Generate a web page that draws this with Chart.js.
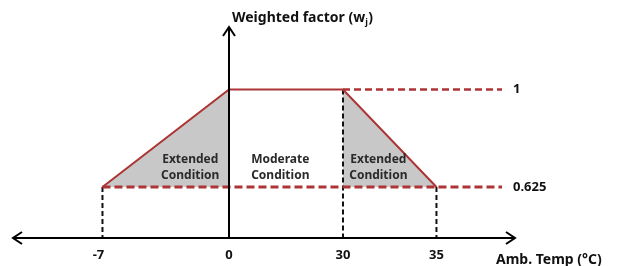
<!DOCTYPE html>
<html>
<head>
<meta charset="utf-8">
<script src="https://cdn.jsdelivr.net/npm/chart.js@4.4.0/dist/chart.umd.min.js"></script>
<style>
  html, body { margin: 0; padding: 0; background: #ffffff; }
  canvas { display: block; }
</style>
</head>
<body>
<canvas id="c" width="618" height="266"></canvas>
<script>
// ---- data ----
const tempTicks   = [-7, 0, 30, 35];                 // ambient temperature break points (°C)
const tickLabels  = ['-7', '0', '30', '35'];
const axisPos     = [-1.11, 0, 1, 1.82];             // schematic (not-to-scale) axis position of each break point
const weights     = [0.625, 1, 1, 0.625];            // weighted factor at each break point
const levelLabels = ['1', '0.625'];
const levelValues = [1, 0.625];
const regionLines = [['Extended', 'Condition'], ['Moderate', 'Condition'], ['Extended', 'Condition']];
const regionPos   = [-0.34, 0.45, 1.31];             // schematic x of region captions
const regionY     = 0.698;

// ---- config ----
const X_MIN = -1.895, X_MAX = 2.509, Y_MIN = 0.4288, Y_MAX = 1.2404;
const LEVEL_END = 2.395;
const RED = '#ad3434';
const GRAY = '#c8c8c8';
const FONT = '"Noto Sans", "Open Sans", sans-serif';

const pts = tempTicks.map((t, i) => ({ x: axisPos[i], y: weights[i] }));

const datasets = [
  // gray shaded triangles
  { data: [pts[0], pts[1]], fill: { value: 0.625 }, backgroundColor: GRAY, borderWidth: 0, pointRadius: 0, order: 10 },
  { data: [pts[2], pts[3]], fill: { value: 0.625 }, backgroundColor: GRAY, borderWidth: 0, pointRadius: 0, order: 10 },
  // vertical black dashed drop lines
  ...[0, 2, 3].map(i => ({
    data: [{ x: axisPos[i], y: weights[i] }, { x: axisPos[i], y: Y_MIN }],
    borderColor: '#111', borderWidth: 2, borderDash: [5, 3], pointRadius: 0, fill: false, order: 8
  })),
  // red dashed level lines
  { data: [{ x: axisPos[2], y: levelValues[0] }, { x: LEVEL_END, y: levelValues[0] }],
    borderColor: RED, borderWidth: 2.5, borderDash: [7, 4], pointRadius: 0, fill: false, order: 6 },
  { data: [{ x: axisPos[0], y: levelValues[1] }, { x: LEVEL_END, y: levelValues[1] }],
    borderColor: RED, borderWidth: 3, borderDash: [8, 4], pointRadius: 0, fill: false, order: 6 },
  // trapezoid outline
  { data: pts, borderColor: RED, borderWidth: 2, pointRadius: 0, fill: false, tension: 0, order: 2 }
];

function arrowHead(ctx, x, y, dx, dy) {
  const len = 9, w = 6;
  const px = -dy, py = dx;
  ctx.beginPath();
  ctx.moveTo(x - dx * len + px * w, y - dy * len + py * w);
  ctx.lineTo(x, y);
  ctx.lineTo(x - dx * len - px * w, y - dy * len - py * w);
  ctx.stroke();
}

const schematic = {
  id: 'schematic',
  afterDatasetsDraw(chart) {
    const { ctx, scales: { x, y } } = chart;
    const ax = x.getPixelForValue(0);
    const ay = y.bottom;
    ctx.save();
    ctx.strokeStyle = '#000';
    ctx.lineWidth = 2;
    ctx.lineCap = 'butt';
    ctx.lineJoin = 'miter';
    // x axis
    ctx.beginPath(); ctx.moveTo(x.left + 1, ay); ctx.lineTo(x.right - 1, ay); ctx.stroke();
    arrowHead(ctx, x.left, ay, -1, 0);
    arrowHead(ctx, x.right, ay, 1, 0);
    // y axis
    ctx.beginPath(); ctx.moveTo(ax, ay); ctx.lineTo(ax, y.top + 1); ctx.stroke();
    arrowHead(ctx, ax, y.top, 0, -1);

    ctx.fillStyle = '#111';
    ctx.textBaseline = 'middle';
    // tick labels
    ctx.font = 'bold 13px ' + FONT;
    ctx.textAlign = 'center';
    tickLabels.forEach((l, i) => {
      const px = x.getPixelForValue(axisPos[i]) - (l.startsWith('-') ? 4 : 0);
      ctx.fillText(l, px, ay + 17);
    });
    // level labels
    ctx.textAlign = 'left';
    levelLabels.forEach((l, i) => {
      ctx.fillText(l, x.getPixelForValue(LEVEL_END) + 11, y.getPixelForValue(levelValues[i]));
    });
    // axis titles
    ctx.font = 'bold 14px ' + FONT;
    ctx.fillText('Amb. Temp (°C)', 496, ay + 22);
    let tx = ax + 3, ty = 18;
    const main = 'Weighted factor (w';
    ctx.fillText(main, tx, ty);
    tx += ctx.measureText(main).width;
    ctx.font = 'bold 9px ' + FONT;
    ctx.fillText('j', tx, ty + 4);
    tx += ctx.measureText('j').width + 0.5;
    ctx.font = 'bold 14px ' + FONT;
    ctx.fillText(')', tx, ty);
    // region captions
    ctx.font = 'bold 12px ' + FONT;
    ctx.fillStyle = '#2a2a2a';
    ctx.textAlign = 'center';
    regionLines.forEach((lines, i) => {
      const px = x.getPixelForValue(regionPos[i]);
      const py = y.getPixelForValue(regionY);
      ctx.fillText(lines[0], px, py - 8);
      ctx.fillText(lines[1], px, py + 8);
    });
    ctx.restore();
  }
};

new Chart(document.getElementById('c'), {
  type: 'line',
  data: { datasets },
  options: {
    responsive: false,
    animation: false,
    events: [],
    layout: { padding: { left: 13, right: 618 - 515, top: 27, bottom: 266 - 238 } },
    plugins: { legend: { display: false }, tooltip: { enabled: false } },
    scales: {
      x: { type: 'linear', min: X_MIN, max: X_MAX, display: false },
      y: { type: 'linear', min: Y_MIN, max: Y_MAX, display: false }
    }
  },
  plugins: [schematic]
});
</script>
</body>
</html>
